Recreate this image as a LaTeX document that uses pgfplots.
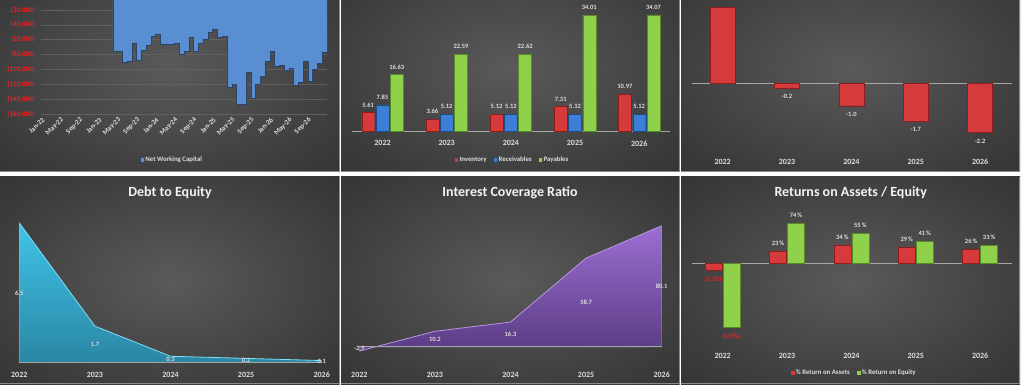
\documentclass[border=0pt]{standalone}
\usepackage{pgfplots}
\pgfplotsset{compat=1.18}
\usepackage{fontspec}
\setmainfont{Carlito}
\definecolor{pc1}{HTML}{5A5A5A}
\definecolor{pc2}{HTML}{3C3C3C}
\definecolor{pc3}{HTML}{1E1E1E}
\definecolor{bordc}{HTML}{8A8A8A}
\definecolor{lbl}{HTML}{DDDDDD}
\definecolor{ttl}{HTML}{F2F2F2}
\definecolor{gridc}{HTML}{606060}
\definecolor{zl}{HTML}{A6A6A6}
\definecolor{nwcblue}{HTML}{5A8ED3}
\definecolor{nwcedge}{HTML}{2A4468}
\definecolor{barred}{HTML}{D63A3A}
\definecolor{barredE}{HTML}{8E1E1E}
\definecolor{barblue}{HTML}{3C7FD6}
\definecolor{barblueE}{HTML}{1E4A86}
\definecolor{bargreen}{HTML}{8FD14A}
\definecolor{bargreenE}{HTML}{5A8A28}
\definecolor{detop}{HTML}{40C4E8}
\definecolor{debot}{HTML}{2A86A4}
\definecolor{deedge}{HTML}{7FDDF4}
\definecolor{ictop}{HTML}{9C6ED2}
\definecolor{icbot}{HTML}{5A3C84}
\definecolor{icedge}{HTML}{B898E4}
\definecolor{negred}{HTML}{FF1A1A}
\pgfdeclareradialshading{panelshade}{\pgfpoint{0bp}{0bp}}{color(0bp)=(pc1); color(28bp)=(pc2); color(60bp)=(pc3); color(72bp)=(pc3)}
\protected\def\negpct#1{\raisebox{-17pt}[0pt][0pt]{\textcolor{negred}{(#1\%)}}}
\pgfplotsset{
  /pgf/number format/assume math mode=true,
  dashax/.style={scale only axis, axis line style={draw=none}, major tick length=0pt, minor tick length=0pt,
    tick style={draw=none}, ticklabel style={text=lbl}, xticklabel style={font=\fontsize{8}{9}\selectfont\bfseries}},
  sq/.style={legend image code/.code={\path[##1,draw=none] (0pt,-1.8pt) rectangle (3.6pt,1.8pt);}},
  leg/.style={legend style={draw=none, fill=none, text=lbl, font=\fontsize{6.8}{7.5}\selectfont\bfseries,
    legend columns=-1, /tikz/every even column/.append style={column sep=6pt}, nodes={inner sep=1.2pt}}},
  zeroline/.style={ytick=\empty, extra y ticks={0}, extra y tick labels={},
    extra y tick style={grid=major, major grid style={zl, line width=0.8pt}}},
}
\begin{document}
\begin{tikzpicture}[x=1pt,y=1pt]
\fill[white] (0,0) rectangle (1024,391);
% panels top
\begin{scope}\clip (0,219) rectangle (339.5,391); \shade[shading=panelshade] (0,219) rectangle (339.5,426); \end{scope}
\begin{scope}\clip (341,219) rectangle (679.5,391); \shade[shading=panelshade] (341,219) rectangle (679.5,426); \end{scope}
\begin{scope}\clip (681,219) rectangle (1020,391); \shade[shading=panelshade] (681,219) rectangle (1020,426); \end{scope}
% panels bottom
\shade[shading=panelshade] (0,7) rectangle (339.5,214);
\shade[shading=panelshade] (341,7) rectangle (679.5,214);
\shade[shading=panelshade] (681,7) rectangle (1020,214);
\draw[bordc, line width=0.7pt] (0,219.35)--(339.15,219.35)--(339.15,391);
\draw[bordc, line width=0.7pt] (341,219.35)--(679.15,219.35)--(679.15,391);
\draw[bordc, line width=0.7pt] (681,219.35)--(1019.65,219.35)--(1019.65,391);
\draw[bordc, line width=0.7pt] (0,7.35)--(339.15,7.35)--(339.15,214);
\draw[bordc, line width=0.7pt] (341,7.35)--(679.15,7.35)--(679.15,214);
\draw[bordc, line width=0.7pt] (681,7.35)--(1019.65,7.35)--(1019.65,214);

% ---------- Net Working Capital ----------
\begin{axis}[dashax, at={(41.4pt,391pt)}, anchor=north west, width=285.6pt, height=114.3pt,
  xmin=0, xmax=60, ymin=-160, ymax=-6.6,
  xtick={0.5,4.5,...,56.5},
  xticklabels={Jan-22,May-22,Sep-22,Jan-23,May-23,Sep-23,Jan-24,May-24,Sep-24,Jan-25,May-25,Sep-25,Jan-26,May-26,Sep-26},
  xticklabel style={font=\fontsize{7}{8}\selectfont\bfseries, rotate=45, anchor=east, yshift=-3pt},
  ytick={-160,-140,-120,-100,-80,-60,-40,-20},
  yticklabels={{(160,000)},{(140,000)},{(120,000)},{(100,000)},{(80,000)},{(60,000)},{(40,000)},{(20,000)}},
  ymajorgrids, major grid style={gridc, line width=0.6pt},
  yticklabel style={text=negred, font=\fontsize{7}{8}\selectfont\bfseries, xshift=-3pt},
  leg, legend style={at={(0.457,-0.40)}, anchor=center}]
\addplot[const plot mark left, fill=nwcblue, draw=nwcedge, line width=0.6pt, sq] coordinates {
(15,0)(15,-76.0)(16,-76.0)(17,-90.7)(18,-88.5)(19,-64.7)(20,-87.1)(21,-74.6)(22,-67.0)(23,-55.8)(24,-52.6)
(25,-66.0)(26,-66.0)(27,-66.0)(28,-64.7)(29,-79.1)(30,-76.0)(31,-57.2)(32,-76.0)(33,-64.7)(34,-58.9)
(35,-49.9)(36,-45.5)(37,-57.2)(38,-55.8)(39,-123.8)(40,-119.7)(41,-146.2)(42,-146.2)(43,-104.2)(44,-138.5)
(45,-119.7)(46,-108.6)(47,-89.4)(48,-76.0)(49,-96.1)(50,-94.8)(51,-100.5)(52,-98.3)(53,-120.7)(54,-117.6)
(55,-88.5)(56,-116.2)(57,-99.6)(58,-91.5)(59,-76.8)(60,-76.8)(60,0)};
\legend{Net Working Capital}
\end{axis}

% ---------- Inventory / Receivables / Payables ----------
\begin{axis}[dashax, at={(351.7pt,391pt)}, anchor=north west, width=318.3pt, height=131.7pt,
  ybar=1.3pt, bar width=13pt, xmin=-0.48, xmax=4.48, ymin=0, ymax=38.4,
  xtick={0,...,4}, xticklabels={2022,2023,2024,2025,2026},
  xticklabel style={anchor=center, yshift=-11.6pt}, zeroline,
  nodes near coords={\pgfmathprintnumber[fixed,fixed zerofill,precision=2]{\pgfplotspointmeta}},
  every node near coord/.append style={font=\fontsize{6.5}{7}\selectfont\bfseries, text=lbl, inner sep=5pt},
  leg, legend style={at={(0.504,-0.215)}, anchor=center}]
\addplot[fill=barred, draw=barredE, sq] coordinates {(0,5.61)(1,3.66)(2,5.12)(3,7.31)(4,10.97)};
\addplot[fill=barblue, draw=barblueE, sq] coordinates {(0,7.85)(1,5.12)(2,5.12)(3,5.12)(4,5.12)};
\addplot[fill=bargreen, draw=bargreenE, sq] coordinates {(0,16.63)(1,22.59)(2,22.62)(3,34.01)(4,34.07)};
\legend{Inventory,Receivables,Payables}
\end{axis}

% ---------- top right ----------
\begin{axis}[dashax, at={(691.7pt,391pt)}, anchor=north west, width=320pt, height=150.5pt,
  ybar, bar width=25pt, xmin=-0.48, xmax=4.49, ymin=-3, ymax=3.72,
  xtick={0,...,4}, xticklabels={2022,2023,2024,2025,2026},
  xticklabel style={anchor=center, yshift=-11.2pt}, zeroline,
  nodes near coords={\pgfmathprintnumber[fixed,fixed zerofill,precision=1]{\pgfplotspointmeta}},
  every node near coord/.append style={font=\fontsize{6.5}{7}\selectfont\bfseries, text=lbl, inner sep=6pt}]
\addplot[fill=barred, draw=barredE] coordinates {(0,3.4)(1,-0.2)(2,-1.0)(3,-1.7)(4,-2.2)};
\end{axis}

% ---------- Debt to Equity ----------
\begin{axis}[dashax, at={(19.3pt,178.8pt)}, anchor=north west, width=302.4pt, height=150.5pt,
  xmin=0, xmax=4, ymin=0, ymax=7, axis on top,
  xtick={0,...,4}, xticklabels={2022,2023,2024,2025,2026},
  xticklabel style={anchor=center, yshift=-12.3pt}, zeroline,
  nodes near coords={\pgfmathprintnumber[fixed,fixed zerofill,precision=1]{\pgfplotspointmeta}},
  every node near coord/.append style={font=\fontsize{6.5}{7}\selectfont\bfseries, text=lbl, anchor=center, yshift={-10.75*\yv}}]
\addplot[draw=deedge, line width=0.8pt, top color=detop, bottom color=debot,
  visualization depends on={\thisrow{y} \as \yv}] table[row sep=\\] {
x y\\ 0 6.5\\ 1 1.7\\ 2 0.3\\ 3 0.2\\ 4 0.1\\} \closedcycle;
\end{axis}

% ---------- Interest Coverage ----------
\begin{axis}[dashax, at={(359.3pt,178.7pt)}, anchor=north west, width=302.4pt, height=151pt,
  xmin=0, xmax=4, ymin=-11, ymax=89, axis on top,
  xtick={0,...,4}, xticklabels={2022,2023,2024,2025,2026},
  xticklabel style={anchor=center, yshift=-11.7pt}, zeroline,
  nodes near coords={\pgfmathprintnumber[fixed,fixed zerofill,precision=1]{\pgfplotspointmeta}},
  every node near coord/.append style={font=\fontsize{6.5}{7}\selectfont\bfseries, text=lbl, anchor=center, yshift={-0.755*\yv}}]
\addplot[draw=icedge, line width=0.8pt, top color=ictop, bottom color=icbot,
  visualization depends on={\thisrow{y} \as \yv}] table[row sep=\\] {
x y\\ 0 -2.9\\ 1 10.2\\ 2 16.3\\ 3 58.7\\ 4 80.1\\} \closedcycle;
\end{axis}

% ---------- Returns ----------
\begin{axis}[dashax, at={(691.7pt,179pt)}, anchor=north west, width=320pt, height=132.3pt,
  ybar=1pt, bar width=17pt, xmin=-0.48, xmax=4.49, ymin=-150, ymax=95,
  xtick={0,...,4}, xticklabels={2022,2023,2024,2025,2026},
  xticklabel style={anchor=center, yshift=-11.7pt}, zeroline,
  point meta=explicit symbolic, nodes near coords,
  every node near coord/.append style={font=\fontsize{6.5}{7}\selectfont\bfseries, text=lbl, inner sep=5.5pt},
  leg, legend style={at={(0.507,-0.219)}, anchor=center}]
\addplot[fill=barred, draw=barredE, sq] coordinates {(0,-13)[\negpct{13}] (1,23)[23\,\%] (2,34)[34\,\%] (3,29)[29\,\%] (4,26)[26\,\%]};
\addplot[fill=bargreen, draw=bargreenE, sq] coordinates {(0,-119)[\negpct{119}] (1,74)[74\,\%] (2,55)[55\,\%] (3,41)[41\,\%] (4,33)[33\,\%]};
\legend{\% Return on Assets,\% Return on Equity}
\end{axis}

\node[font=\fontsize{14}{16}\selectfont\bfseries, text=ttl] at (170,198.7) {Debt to Equity};
\node[font=\fontsize{14}{16}\selectfont\bfseries, text=ttl] at (510,198.7) {Interest Coverage Ratio};
\node[font=\fontsize{14}{16}\selectfont\bfseries, text=ttl] at (850.7,198.7) {Returns on Assets / Equity};
\pgfresetboundingbox
\useasboundingbox (0,0) rectangle (1024,391);
\end{tikzpicture}
\end{document}
